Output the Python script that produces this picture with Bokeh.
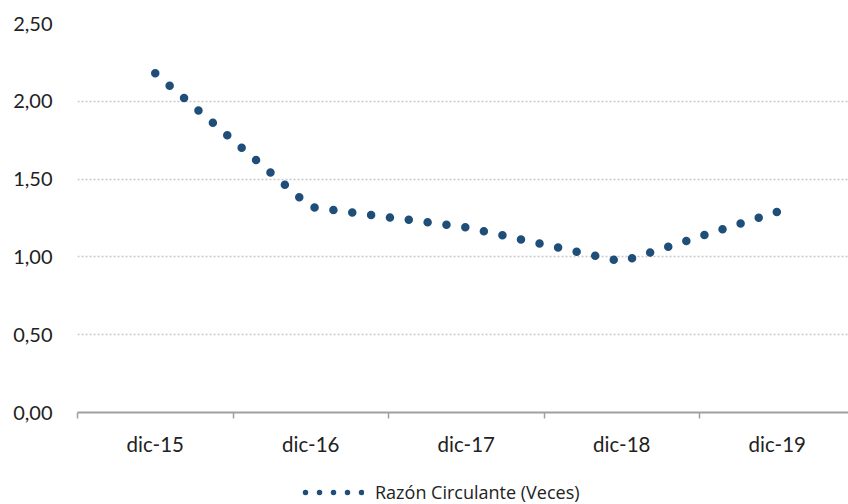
from bokeh.plotting import figure
from bokeh.models import FixedTicker, Range1d, Legend, LegendItem
from bokeh.layouts import column
from bokeh.embed import file_html
from bokeh.resources import INLINE

categories = ["dic-15", "dic-16", "dic-17", "dic-18", "dic-19"]
razon = [2.18, 1.32, 1.19, 0.97, 1.29]
y_ticks = [0.0, 0.5, 1.0, 1.5, 2.0, 2.5]
y_labels = ["0,00", "0,50", "1,00", "1,50", "2,00", "2,50"]
series_name = "Razón Circulante (Veces)"

x = list(range(len(categories)))
color = "#1F4E79"
font = "Lato"

p = figure(width=848, height=475, output_backend="svg", toolbar_location=None,
           x_range=Range1d(-0.5, 4.458), y_range=Range1d(0, 2.5),
           min_border_left=77, min_border_right=0, min_border_top=23, min_border_bottom=63)
p.outline_line_color = None
p.background_fill_color = "white"
p.border_fill_color = "white"

line = p.line(x, razon, line_color=color, line_width=8.5, line_dash="0 19", line_cap="round")

# x axis
p.xaxis.ticker = FixedTicker(ticks=x, minor_ticks=[i - 0.5 for i in range(len(categories) + 1)])
p.xaxis.major_label_overrides = {i: c for i, c in enumerate(categories)}
p.xaxis.major_tick_line_color = None
p.xaxis.minor_tick_line_color = "#A0A0A0"
p.xaxis.minor_tick_line_width = 1.5
p.xaxis.minor_tick_out = 6
p.xaxis.minor_tick_in = 0
p.xaxis.axis_line_color = "#A0A0A0"
p.xaxis.axis_line_width = 1.8
p.xaxis.major_label_standoff = 13
p.xaxis.major_label_text_font = font
p.xaxis.major_label_text_font_size = "20.5px"
p.xaxis.major_label_text_color = "#222222"

# y axis
p.yaxis.ticker = FixedTicker(ticks=y_ticks)
p.yaxis.major_label_overrides = {t: l for t, l in zip(y_ticks, y_labels)}
p.yaxis.axis_line_color = None
p.yaxis.major_tick_line_color = None
p.yaxis.minor_tick_line_color = None
p.yaxis.major_label_standoff = 19
p.yaxis.major_label_text_font = font
p.yaxis.major_label_text_font_size = "20px"
p.yaxis.major_label_text_color = "#222222"

p.xgrid.grid_line_color = None
p.ygrid.ticker = FixedTicker(ticks=[0.5, 1.0, 1.5, 2.0, 2.5])
p.ygrid.grid_line_color = "#C8C8C8"
p.ygrid.grid_line_dash = "2 2"
p.ygrid.grid_line_width = 1.3

# legend strip (its proxy line uses the same series, kept outside the strip's view)
lg = figure(width=848, height=29, output_backend="svg", toolbar_location=None,
            x_range=Range1d(0, 1), y_range=Range1d(-20, -10),
            x_axis_location=None, y_axis_location=None,
            min_border_left=0, min_border_right=0, min_border_top=0, min_border_bottom=0)
lg.outline_line_color = None
lg.xgrid.visible = False
lg.ygrid.visible = False
proxy = lg.line(x, razon, line_color=color, line_width=5.5, line_dash="0 14",
                line_dash_offset=11, line_cap="round")
legend = Legend(items=[LegendItem(label=series_name, renderers=[proxy])],
                location=(225, 0), orientation="horizontal",
                glyph_width=62, glyph_height=16, label_standoff=11,
                padding=0, margin=0, border_line_color=None,
                background_fill_alpha=0,
                label_text_font="Open Sans", label_text_font_size="18px",
                label_text_color="#222222")
lg.add_layout(legend, "center")

open("out.html", "w").write(file_html(column(p, lg, spacing=0), INLINE))
